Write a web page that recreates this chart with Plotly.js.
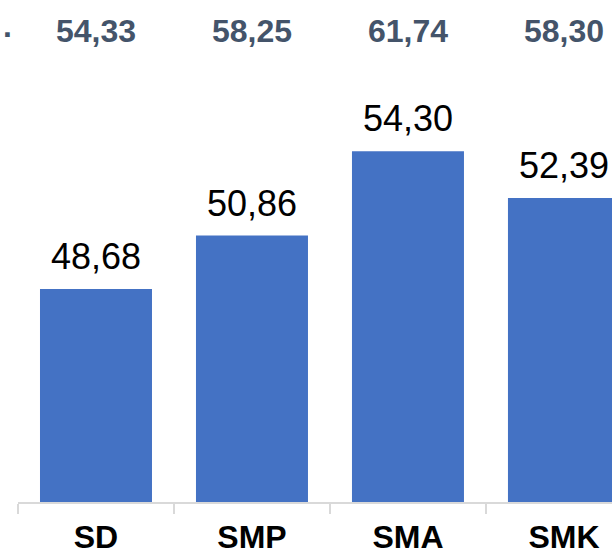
<!DOCTYPE html>
<html>
<head>
<meta charset="utf-8">
<script src="https://cdn.plot.ly/plotly-3.0.1.min.js"></script>
<style>html,body{margin:0;padding:0;background:#fff;}#chart{width:612px;height:554px;}</style>
</head>
<body>
<div id="chart"></div>
<script>
// Data
const categories = ["SD", "SMP", "SMA", "SMK"];
const schoolValues = [48.68, 50.86, 54.30, 52.39];
const topRowValues = [54.33, 58.25, 61.74, 58.30];
const leftFragment = ".";

function fmt(v) { return v.toFixed(2).replace(".", ","); }

const FONT = "Liberation Sans, Arial, sans-serif";

const annotations = [];
categories.forEach((c, i) => {
  annotations.push({
    x: c, y: schoolValues[i], xref: "x", yref: "y",
    text: fmt(schoolValues[i]), showarrow: false,
    yanchor: "bottom", yshift: 10,
    font: {family: FONT, size: 36, color: "#000000"}
  });
  annotations.push({
    x: c, y: 0.938, xref: "x", yref: "paper",
    text: fmt(topRowValues[i]), showarrow: false,
    yanchor: "middle",
    font: {family: FONT, size: 32, color: "#44546A", weight: "bold"}
  });
});
annotations.push({
  x: -0.017, y: 0.938, xref: "paper", yref: "paper",
  text: leftFragment, showarrow: false, xanchor: "center", yanchor: "middle", yshift: 5,
  font: {family: FONT, size: 32, color: "#44546A", weight: "bold"}
});

const trace = {
  type: "bar",
  x: categories,
  y: schoolValues,
  marker: {color: "#4472C4"},
  hoverinfo: "none"
};

const layout = {
  width: 612, height: 554,
  margin: {l: 18, r: 0, t: 0, b: 52},
  paper_bgcolor: "#ffffff", plot_bgcolor: "#ffffff",
  bargap: 0.282,
  showlegend: false,
  xaxis: {
    type: "category",
    range: [-0.5, 3.308],
    showline: true, linecolor: "#d9d9d9", linewidth: 2,
    ticks: "outside", tickson: "boundaries", ticklen: 10, tickwidth: 2, tickcolor: "#d9d9d9",
    ticklabelstandoff: 6,
    tickfont: {family: FONT, size: 32, color: "#000000", weight: "bold"},
    showgrid: false, zeroline: false, fixedrange: true
  },
  yaxis: {
    range: [40, 60.46],
    showgrid: false, zeroline: false, showline: false, showticklabels: false, ticks: "",
    fixedrange: true
  },
  annotations: annotations
};

Plotly.newPlot("chart", [trace], layout, {staticPlot: true, displayModeBar: false});
</script>
</body>
</html>
